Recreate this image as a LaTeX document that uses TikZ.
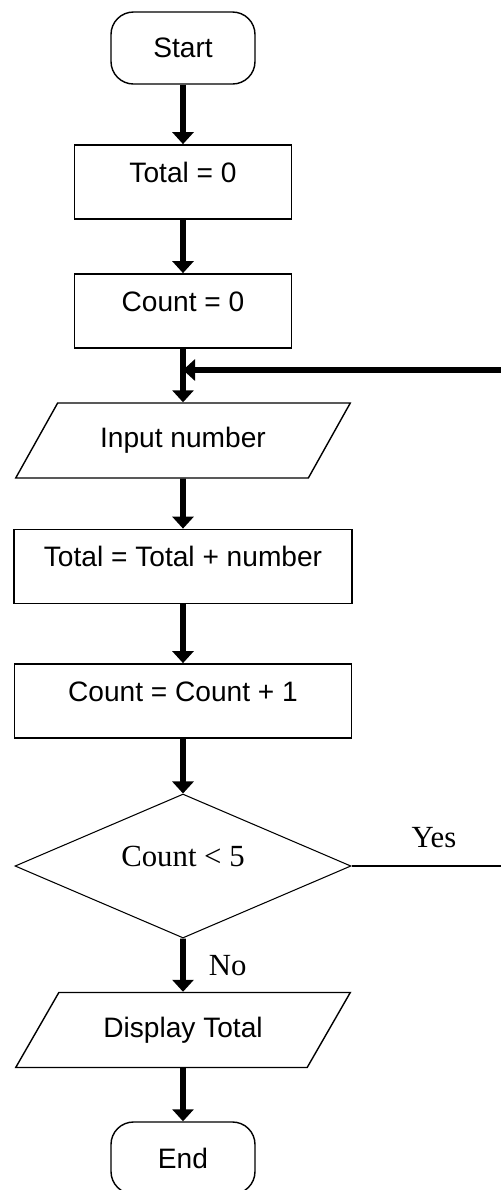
\documentclass[tikz,border=0pt]{standalone}
\usepackage{fontspec}
\setmainfont{Liberation Serif}
\setsansfont{Liberation Sans}
\usepackage{tikz}
\usetikzlibrary{arrows.meta,positioning,shapes.geometric,shapes.misc}
\tikzset{
  fterm/.style={draw, line width=0.8pt, rounded corners=0.45cm, align=center, minimum width=2.88cm, minimum height=1.44cm, inner sep=0pt, font=\sffamily\fontsize{16}{19}\selectfont},
  fproc/.style={draw, line width=1pt, align=center, minimum height=1.48cm, text height=0.5cm, text depth=0.5cm, inner sep=0pt, font=\sffamily\fontsize{16}{19}\selectfont},
  fio/.style={draw, line width=0.8pt, trapezium, trapezium left angle=49, trapezium right angle=131, trapezium stretches=true, minimum width=6.7cm, minimum height=1.5cm, inner sep=2pt, font=\sffamily\fontsize{16}{19}\selectfont},
  fdec/.style={draw, line width=0.6pt, diamond, aspect=2.33, minimum width=6.72cm, minimum height=2.88cm, text height=0.35cm, text depth=0.35cm, inner sep=0pt, font=\rmfamily\fontsize{17.5}{20}\selectfont},
  flabel/.style={font=\rmfamily\fontsize{17.5}{20}\selectfont, inner sep=0pt},
  farrow/.style={-{Triangle[width=0.42cm,length=0.24cm]}, line width=3.2pt},
  fline/.style={line width=1.6pt}
}
\begin{document}
\begin{tikzpicture}[x=1cm,y=1cm]
\useasboundingbox (0,0) rectangle (10.02,-23.8);
\node[fterm] (start) at (3.66,-0.96) {Start};
\node[fproc, minimum width=4.34cm] (total0) at (3.66,-3.64) {Total = 0};
\node[fproc, minimum width=4.34cm] (count0) at (3.66,-6.22) {Count = 0};
\coordinate (merge) at (3.66,-7.40);
\coordinate (edge) at (10.2,-7.40);
\node[fio] (input) at (3.66,-8.81) {Input number};
\node[fproc, minimum width=6.76cm] (addnum) at (3.66,-11.33) {Total = Total + number};
\node[fproc, minimum width=6.74cm] (inccount) at (3.66,-14.02) {Count = Count + 1};
\node[fdec] (check) at (3.66,-17.32) {Count < 5};
\node[fio] (display) at (3.66,-20.60) {Display Total};
\node[fterm] (stop) at (3.66,-23.16) {End};
\draw[farrow] (start.south) -- (total0.north);
\draw[farrow] (total0.south) -- (count0.north);
\draw[farrow] (count0.south) -- (input.north);
\draw[farrow] (input.south) -- (addnum.north);
\draw[farrow] (addnum.south) -- (inccount.north);
\draw[farrow] (inccount.south) -- (check.north);
\draw[farrow] (check.south) -- node[flabel, right=0.46cm] {No} (display.north);
\draw[farrow] (display.south) -- (stop.north);
\draw[fline] (check.east) -- node[flabel, above=0.34cm, pos=0.52] {Yes} (check.east -| edge);
\draw[farrow] (edge) -- (merge);
\end{tikzpicture}
\end{document}
